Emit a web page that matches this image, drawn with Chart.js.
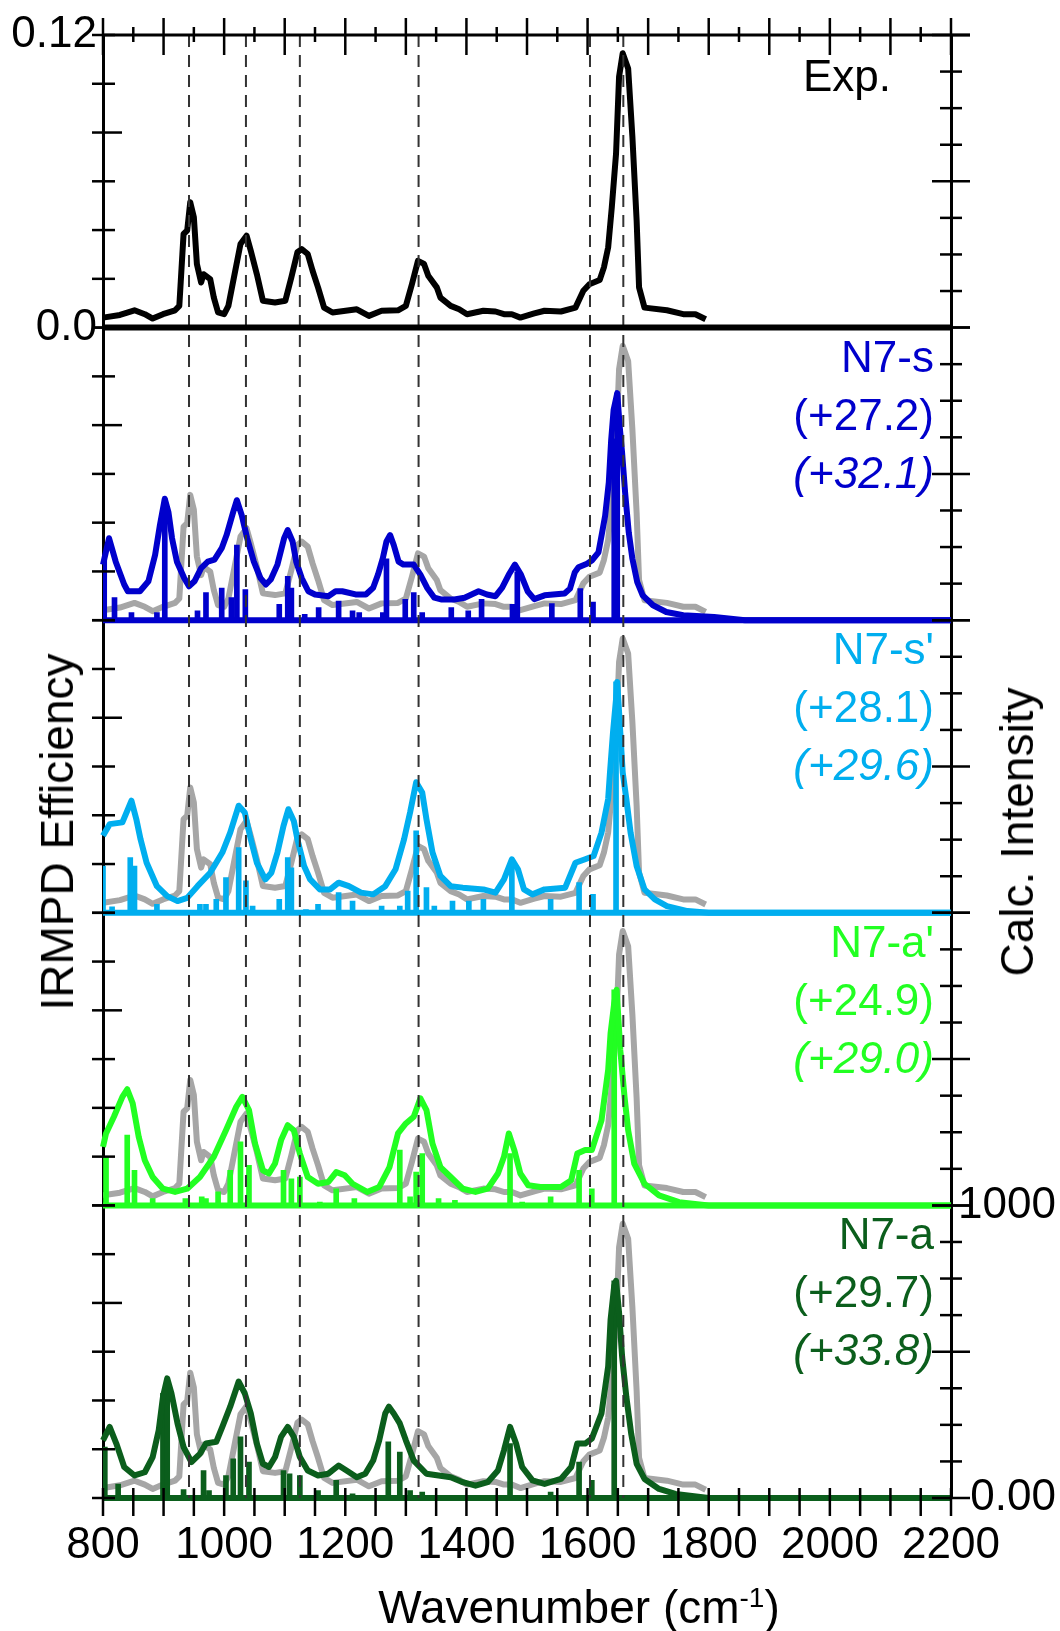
<!DOCTYPE html>
<html>
<head>
<meta charset="utf-8">
<script src="https://cdn.jsdelivr.net/npm/chart.js@4.4.1/dist/chart.umd.min.js"></script>
<style>
  html, body { margin: 0; padding: 0; background: #fff; }
  #wrap { position: relative; width: 1060px; height: 1631px; font-family: "Liberation Sans", Arial, sans-serif; }
  canvas { position: absolute; left: 0; top: 0; }
  .lbl { position: absolute; right: 126px; text-align: right; font-size: 44px; line-height: 58px; white-space: nowrap; }
  .ttl { position: absolute; font-size: 46px; white-space: nowrap; color: #000; }
</style>
</head>
<body>
<div id="wrap">
  <canvas id="ir" width="1060" height="1631"></canvas>
</div>
<script>
const FONT = 'Liberation Sans, Arial, Helvetica, sans-serif';

// experimental IRMPD spectrum (black on top, grey under every calculated one)
const expWn = [800, 828, 852, 869, 882, 899, 919, 926, 933, 939, 944, 950, 955, 962, 966, 977, 983, 990, 1000, 1007,
  1014, 1027, 1037, 1044, 1054, 1064, 1084, 1101, 1111, 1121, 1128, 1138, 1146, 1155, 1165, 1179, 1219, 1239, 1260, 1287,
  1300, 1310, 1320, 1330, 1337, 1351, 1357, 1374, 1388, 1401, 1428, 1448, 1462, 1475, 1489, 1512, 1529, 1556, 1580, 1593,
  1603, 1620, 1627, 1634, 1640, 1647, 1652, 1658, 1667, 1674, 1681, 1685, 1694, 1731, 1758, 1778, 1795];
const expEff = [.0041, .0052, .0071, .0055, .0037, .0055, .0071, .0089, .0384, .0398, .0514, .0453, .0261, .0185, .0219, .0199, .0123, .0062, .0055, .0089,
  .0178, .0343, .0377, .0315, .0219, .0110, .0103, .0110, .0206, .0309, .0322, .0302, .0233, .0165, .0082, .0062, .0075, .0048, .0069, .0071,
  .0089, .0178, .0274, .0261, .0213, .0165, .0123, .0089, .0075, .0055, .0069, .0066, .0055, .0055, .0041, .0058, .0069, .0066, .0082, .0151,
  .0178, .0195, .0247, .0329, .0494, .0713, .1029, .1125, .1063, .0782, .0439, .0165, .0082, .0071, .0055, .0055, .0034];

// N7-s
const sWn = [800, 810, 821, 835, 841, 861, 875, 886, 894, 902, 908, 914, 922, 934, 942, 951, 962, 973, 984, 996,
  1004, 1015, 1021, 1029, 1038, 1049, 1060, 1069, 1077, 1088, 1099, 1105, 1113, 1119, 1128, 1139, 1150, 1172, 1184, 1195,
  1217, 1234, 1246, 1254, 1262, 1268, 1274, 1280, 1288, 1296, 1313, 1324, 1335, 1347, 1358, 1380, 1397, 1420, 1434, 1448,
  1459, 1470, 1480, 1490, 1501, 1512, 1529, 1562, 1571, 1579, 1585, 1599, 1607, 1618, 1624, 1629, 1635, 1639, 1643, 1649,
  1653, 1657, 1662, 1668, 1674, 1682, 1691, 1708, 1730, 1758, 1809, 1860, 2200];
const sCalc = [190, 280, 200, 122, 99, 99, 133, 223, 325, 415, 370, 280, 200, 144, 116, 133, 178, 200, 207, 246,
  291, 370, 410, 359, 280, 200, 144, 122, 139, 190, 280, 308, 269, 200, 144, 99, 88, 82, 99, 99,
  88, 88, 111, 156, 212, 269, 291, 257, 200, 190, 190, 156, 111, 77, 71, 71, 77, 99, 88, 82,
  111, 156, 190, 156, 99, 72, 85, 91, 108, 164, 181, 193, 204, 232, 300, 357, 470, 617, 719, 776,
  663, 572, 436, 300, 210, 130, 85, 51, 28, 17, 11, 0, 0];
const sStickWn = [802, 819, 847, 889, 902, 956, 970, 996, 1012, 1021, 1035, 1091, 1105, 1111, 1133, 1156, 1189, 1212, 1223, 1262,
  1268, 1299, 1313, 1327, 1375, 1403, 1425, 1476, 1484, 1541, 1588, 1609, 1644, 1649];
const sStickInt = [210, 77, 26, 26, 415, 32, 94, 110, 77, 257, 105, 54, 150, 110, 20, 43, 65, 32, 26, 26,
  210, 71, 94, 26, 43, 32, 71, 54, 165, 57, 108, 62, 620, 776];

// N7-s'
const spWn = [800, 811, 832, 847, 855, 862, 872, 889, 906, 923, 939, 956, 977, 997, 1010, 1024, 1034, 1044, 1054, 1068,
  1078, 1088, 1098, 1106, 1115, 1121, 1132, 1142, 1158, 1175, 1189, 1206, 1226, 1246, 1266, 1283, 1297, 1307, 1317, 1327,
  1334, 1344, 1357, 1374, 1394, 1428, 1448, 1462, 1475, 1485, 1495, 1509, 1529, 1563, 1580, 1596, 1610, 1623, 1634, 1637,
  1642, 1647, 1649, 1654, 1658, 1664, 1671, 1681, 1694, 1711, 1731, 1765, 1800, 2200];
const spCalc = [263, 303, 309, 383, 320, 251, 171, 91, 57, 40, 51, 91, 137, 206, 274, 366, 343, 251, 171, 114,
  137, 206, 297, 354, 314, 251, 160, 114, 80, 80, 103, 91, 69, 63, 91, 149, 251, 343, 446, 411,
  320, 206, 126, 91, 86, 80, 69, 114, 183, 149, 80, 63, 80, 86, 171, 183, 194, 274, 389, 480,
  617, 731, 789, 617, 480, 389, 274, 160, 80, 46, 23, 6, 0, 0];
const spStickWn = [800, 815, 845, 852, 889, 960, 970, 987, 1003, 1024, 1036, 1047, 1091, 1105, 1111, 1135, 1155, 1189, 1212, 1260,
  1290, 1303, 1317, 1334, 1347, 1377, 1404, 1428, 1475, 1539, 1586, 1609, 1647];
const spStickInt = [160, 20, 189, 160, 29, 29, 29, 46, 120, 223, 109, 23, 46, 189, 154, 11, 29, 69, 40, 23,
  23, 74, 280, 86, 23, 40, 40, 46, 160, 46, 103, 63, 789];

// N7-a'
const apWn = [800, 805, 818, 832, 840, 849, 859, 869, 882, 899, 919, 939, 960, 983, 1003, 1020, 1030, 1041, 1051, 1064,
  1074, 1084, 1094, 1105, 1115, 1125, 1138, 1155, 1172, 1185, 1199, 1212, 1236, 1256, 1273, 1287, 1300, 1313, 1324, 1334,
  1344, 1357, 1374, 1394, 1415, 1435, 1452, 1462, 1470, 1479, 1489, 1502, 1522, 1556, 1573, 1583, 1596, 1607, 1623, 1634,
  1638, 1644, 1648, 1654, 1661, 1667, 1677, 1694, 1718, 1751, 1800, 2200];
const apCalc = [200, 246, 303, 371, 397, 349, 234, 154, 97, 57, 46, 57, 97, 166, 257, 337, 371, 326, 211, 120,
  109, 143, 223, 274, 257, 177, 97, 74, 80, 114, 103, 74, 46, 63, 131, 246, 280, 303, 366, 326,
  211, 131, 97, 57, 46, 57, 109, 166, 246, 189, 109, 69, 63, 63, 86, 177, 189, 189, 291, 463,
  589, 691, 737, 531, 371, 257, 143, 74, 34, 11, 0, 0];
const apStickWn = [805, 840, 852, 882, 936, 963, 970, 990, 1010, 1027, 1041, 1098, 1111, 1125, 1158, 1185, 1215, 1290, 1307, 1317,
  1327, 1354, 1381, 1472, 1492, 1539, 1586, 1607, 1644];
const apStickInt = [166, 240, 120, 23, 23, 29, 23, 46, 120, 217, 137, 120, 91, 97, 11, 57, 23, 189, 29, 114,
  177, 23, 17, 177, 11, 29, 120, 57, 737];

// N7-a
const aWn = [800, 811, 822, 835, 852, 869, 882, 892, 899, 906, 913, 923, 933, 946, 960, 970, 987, 997, 1010, 1024,
  1034, 1044, 1054, 1064, 1074, 1084, 1094, 1105, 1115, 1125, 1138, 1155, 1172, 1189, 1202, 1219, 1233, 1246, 1256, 1266,
  1272, 1280, 1290, 1300, 1313, 1334, 1354, 1374, 1394, 1415, 1435, 1452, 1462, 1472, 1482, 1492, 1509, 1529, 1556, 1573,
  1583, 1596, 1607, 1623, 1634, 1638, 1644, 1647, 1652, 1657, 1664, 1672, 1681, 1694, 1718, 1745, 1800, 2200];
const aCalc = [197, 243, 186, 106, 77, 88, 140, 232, 346, 409, 358, 255, 174, 123, 151, 186, 192, 243, 312, 398,
  358, 289, 186, 117, 106, 140, 209, 243, 209, 140, 94, 77, 83, 111, 94, 71, 83, 128, 197, 289,
  312, 289, 255, 197, 128, 83, 77, 71, 54, 42, 54, 94, 163, 243, 186, 106, 60, 48, 65, 106,
  186, 186, 203, 289, 450, 610, 725, 742, 633, 484, 346, 220, 117, 65, 31, 14, 0, 0];
const aStickWn = [803, 825, 899, 906, 933, 966, 975, 1003, 1015, 1027, 1041, 1098, 1108, 1125, 1155, 1185, 1212, 1271, 1290, 1307,
  1327, 1472, 1539, 1586, 1607, 1644];
const aStickInt = [174, 48, 358, 404, 29, 94, 25, 77, 134, 209, 123, 94, 83, 77, 25, 60, 14, 192, 157, 25,
  20, 186, 20, 123, 60, 742];

const names = ['N7-s', "N7-s'", "N7-a'", 'N7-a'];
const energy1 = ['(+27.2)', '(+28.1)', '(+24.9)', '(+29.7)'];
const energy2 = ['(+32.1)', '(+29.6)', '(+29.0)', '(+33.8)'];
const colors = ['#0000cc', '#00aeef', '#22ff22', '#0b5e1c'];
const peakLines = [942, 1036, 1125, 1321, 1604, 1659];
const stickRange = [800, 2200];

const xy = (xs, ys) => xs.map((x, i) => ({x: x, y: ys[i]}));

const calc = [
  [sWn, sCalc, sStickWn, sStickInt],
  [spWn, spCalc, spStickWn, spStickInt],
  [apWn, apCalc, apStickWn, apStickInt],
  [aWn, aCalc, aStickWn, aStickInt]
];

const LW = 6;
const datasets = [{
  type: 'line', data: xy(expWn, expEff), yAxisID: 'L0', borderColor: '#000', borderWidth: LW,
  pointRadius: 0, tension: 0, borderJoinStyle: 'round', order: 1, clip: 3
}];
calc.forEach((c, i) => {
  const p = i + 1;
  datasets.push({type: 'line', data: xy(c[0], c[1]), yAxisID: 'R' + p, borderColor: colors[i], borderWidth: LW,
    pointRadius: 0, tension: 0, borderJoinStyle: 'round', order: 1, clip: 4});
  // zero line the sticks stand on
  datasets.push({type: 'line', data: xy(stickRange, [0, 0]), yAxisID: 'R' + p, borderColor: colors[i], borderWidth: LW,
    pointRadius: 0, order: 1, clip: 4});
  datasets.push({type: 'bar', data: xy(c[2], c[3]), yAxisID: 'R' + p, backgroundColor: colors[i],
    barThickness: 5, grouped: false, order: 2});
  datasets.push({type: 'line', data: xy(expWn, expEff), yAxisID: 'L' + p, borderColor: '#a6a6a6', borderWidth: LW,
    pointRadius: 0, tension: 0, borderJoinStyle: 'round', order: 3});
});

const tickFont = {family: FONT, size: 44};
const scales = {
  x: {
    type: 'linear', min: 800, max: 2200, offset: false,
    grid: {display: false, drawTicks: false},
    border: {display: true, width: 3, color: '#000'},
    ticks: {stepSize: 50, autoSkip: false, maxRotation: 0, maxTicksLimit: 100, padding: 21, font: tickFont, color: '#000',
      callback: v => (v % 200 === 0 ? String(v) : '')},
    afterFit: s => { s.height = 133; }
  }
};
for (let p = 0; p < 5; p++) {
  scales['L' + p] = {
    type: 'linear', position: 'left', stack: 'left', stackWeight: 1, weight: 5 - p,
    min: 0, max: 0.12, offset: false,
    grid: {display: false, drawTicks: false},
    border: {display: true, width: 3, color: '#000'},
    ticks: {stepSize: 0.02, autoSkip: false, padding: 6, font: tickFont, color: '#000',
      callback: v => {
        if (p !== 0) return '';
        if (Math.abs(v - 0.12) < 1e-9) return '0.12';
        return v === 0 ? '0.0' : '';
      }},
    afterFit: s => { s.width = 103; }
  };
  scales['R' + p] = {
    type: 'linear', position: 'right', stack: 'right', stackWeight: 1, weight: p,
    min: 0, max: 1000, offset: false,
    grid: {display: false, drawTicks: false},
    border: {display: true, width: 3, color: '#000'},
    ticks: {stepSize: 125, autoSkip: false, padding: 6, crossAlign: 'far', font: tickFont, color: '#000',
      callback: v => {
        if (p !== 4) return '';
        if (v === 0) return '0.00';
        return v === 1000 ? '1000' : '';
      }},
    afterFit: s => { s.width = 105; }
  };
}

// frame: crossing tick marks, top edge, zero line of the experiment, dashed guides
const frame = {
  id: 'frame',
  afterDraw(chart) {
    const {ctx, chartArea: a, scales: sc} = chart;
    const xs = sc.x;
    const seg = (x1, y1, x2, y2) => { ctx.beginPath(); ctx.moveTo(x1, y1); ctx.lineTo(x2, y2); ctx.stroke(); };
    ctx.save();
    ctx.lineWidth = 2;
    ctx.strokeStyle = '#333';
    ctx.setLineDash([12, 8]);
    peakLines.forEach(w => {
      const px = xs.getPixelForValue(w);
      seg(px, a.top, px, a.bottom);
    });
    ctx.setLineDash([]);
    ctx.strokeStyle = '#000';
    ctx.lineWidth = 3;
    seg(a.left, a.top, a.right + 19, a.top);
    ctx.lineWidth = 6;
    const y0 = sc.L0.getPixelForValue(0);
    seg(a.left, y0, a.right, y0);
    ctx.lineWidth = 2.5;
    xs.ticks.forEach(t => {
      const px = xs.getPixelForValue(t.value);
      const major = t.value % 100 === 0;
      seg(px, a.top - (major ? 17 : 8), px, a.top + (major ? 20 : 7));
      seg(px, a.bottom - 10, px, a.bottom + 18);
    });
    for (let p = 0; p < 5; p++) {
      const L = sc['L' + p], R = sc['R' + p];
      L.ticks.forEach(t => {
        const py = L.getPixelForValue(t.value);
        const long = Math.abs(t.value - 0.08) < 1e-6;
        seg(a.left - 11, py, a.left + (long ? 19 : 12), py);
      });
      R.ticks.forEach(t => {
        const py = R.getPixelForValue(t.value);
        const d = t.value % 500 === 0 ? 19 : 11;
        seg(a.right - d, py, a.right + d, py);
      });
    }
    ctx.restore();
  }
};

new Chart(document.getElementById('ir'), {
  type: 'line',
  data: {datasets: datasets},
  options: {
    responsive: false,
    animation: false,
    devicePixelRatio: 1,
    layout: {padding: {top: 35, right: 4, left: 0, bottom: 0}},
    plugins: {legend: {display: false}, tooltip: {enabled: false}},
    scales: scales
  },
  plugins: [frame]
});

// labels
const wrap = document.getElementById('wrap');
const panelH = (1498 - 35) / 5;
function addDiv(cls, html, style) {
  const d = document.createElement('div');
  d.className = cls;
  d.innerHTML = html;
  Object.assign(d.style, style);
  wrap.appendChild(d);
}
addDiv('lbl', 'Exp.', {top: '47px', left: '803px', right: 'auto', color: '#000'});
names.forEach((n, i) => {
  addDiv('lbl', n + '<br>' + energy1[i] + '<br><i>' + energy2[i] + '</i>',
    {top: (35 + (i + 1) * panelH) + 'px', color: colors[i]});
});
addDiv('ttl', 'IRMPD Efficiency', {left: '57px', top: '832px', transform: 'translate(-50%, -50%) rotate(-90deg)'});
addDiv('ttl', 'Calc. Intensity', {left: '1017px', top: '832px', transform: 'translate(-50%, -50%) rotate(-90deg)'});
addDiv('ttl', 'Wavenumber (cm<sup style="font-size:28px">-1</sup>)', {left: '579px', top: '1607px', transform: 'translate(-50%, -50%)'});
</script>
</body>
</html>
